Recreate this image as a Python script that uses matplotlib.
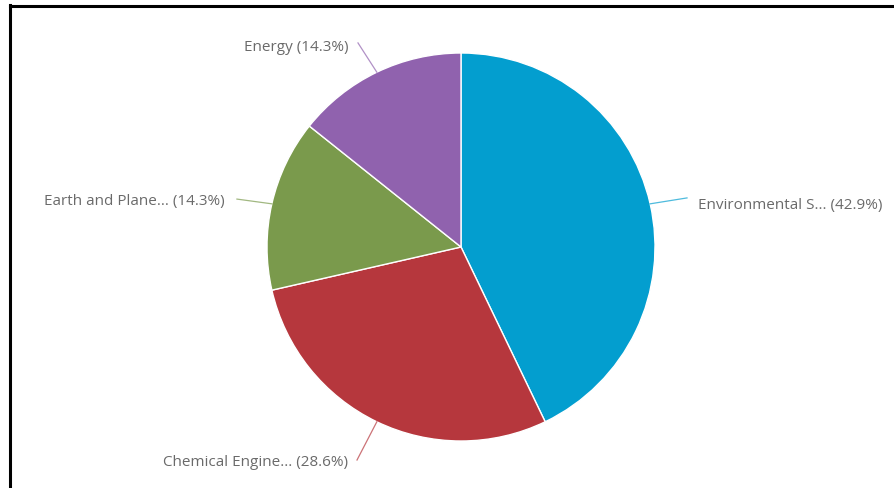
import matplotlib.pyplot as plt
from matplotlib.lines import Line2D
import numpy as np

labels = ["Environmental S...", "Chemical Engine...", "Earth and Plane...", "Energy"]
shares = [42.9, 28.6, 14.3, 14.3]
colors = ["#039ecf", "#b6373d", "#7a9a4c", "#9062ae"]

# layout of the outside labels (pie units, radius 1)
line_ends = [(1.165, 0.253), (-0.536, -1.098), (-1.155, 0.247), (-0.531, 1.052)]
text_pos = [(1.222, 0.214), (-0.582, -1.113), (-1.216, 0.232), (-0.582, 1.026)]

plt.rcParams['font.family'] = ['Open Sans', 'DejaVu Sans']

fig = plt.figure(figsize=(8.94, 4.88), dpi=100)
cx, cy, r = 461, 247, 194
ax = fig.add_axes([(cx - r) / 894, (488 - cy - r) / 488, 2 * r / 894, 2 * r / 488])

wedges, _ = ax.pie(shares, colors=colors, startangle=90, counterclock=False,
                   radius=1, wedgeprops=dict(edgecolor="white", linewidth=1))
ax.set_xlim(-1, 1)
ax.set_ylim(-1, 1)
ax.set_aspect('equal')

for w, lab, val, (ex, ey), (tx, ty), c in zip(wedges, labels, shares, line_ends, text_pos, colors):
    ang = np.deg2rad((w.theta1 + w.theta2) / 2)
    ax.plot([np.cos(ang), ex], [np.sin(ang), ey], color=c, lw=0.9, alpha=0.7, clip_on=False)
    ha = "left" if tx > 0 else "right"
    ax.text(tx, ty, f"{lab} ({val}%)", ha=ha, va="center", fontsize=11,
            color="#6a6a6a", clip_on=False)

# black frame on top and left edges
fig.add_artist(Line2D([9.5 / 894, 9.5 / 894], [0, 1 - 5 / 488], color="black", lw=2.2))
fig.add_artist(Line2D([9.5 / 894, 1], [1 - 5.5 / 488, 1 - 5.5 / 488], color="black", lw=2.2))

fig.savefig("out.png", dpi=100)
